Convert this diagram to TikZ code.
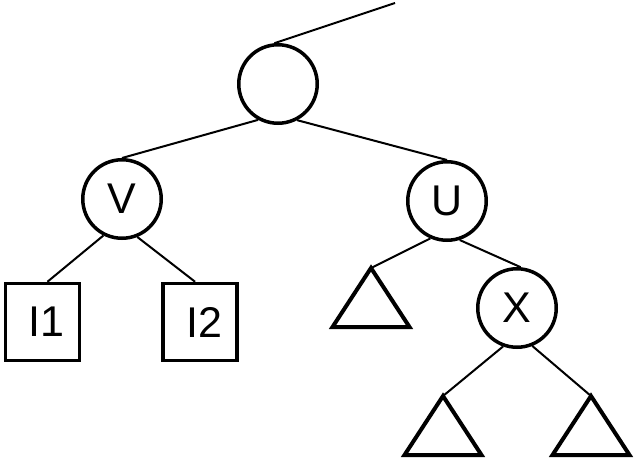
\documentclass[tikz,border=0pt]{standalone}
\usepackage{fontspec}
\setmainfont{Liberation Sans}

\begin{document}
\begin{tikzpicture}
[
x=1pt,y=-1pt,
vert/.style={draw,circle,line width=3.5pt,minimum size=78.5pt,inner sep=0pt,font=\fontsize{43}{43}\selectfont},
leaf/.style={draw,rectangle,line width=3.5pt,minimum width=74pt,minimum height=77pt,inner sep=0pt,font=\fontsize{43}{43}\selectfont},
edge/.style={line width=2pt},
subtree/.style={line width=4pt,line join=miter},
]
\useasboundingbox (0,0) rectangle (637,464);

%Place the nodes
\node[vert] (root) at (278,84) {};
\node[vert] (v) at (122,199) {V};
\node[vert] (u) at (447,201) {U};
\node[vert] (x) at (517,308) {X};
\node[leaf] (i1) at (42.5,322) {\hspace{8pt}I1};
\node[leaf] (i2) at (200,322) {\hspace{8pt}I2};
\coordinate (top) at (395,3);
\coordinate (t1) at (371,268);
\coordinate (t2) at (443,396);
\coordinate (t3) at (591,396);

%Draw the subtrees
\foreach \t in {t1,t2,t3}
  \draw[subtree] (\t) -- ++(-38.5,59) -- ++(77,0) -- cycle;

%Draw the connections
\draw[edge] (root.95) -- (top);
\draw[edge] (root.241) -- (v.north);
\draw[edge] (root.298) -- (u.north);
\draw[edge] (v.243) -- (i1.83);
\draw[edge] (v.292) -- (i2.97);
\draw[edge] (u.246) -- (t1);
\draw[edge] (u.288) -- (x.85);
\draw[edge] (x.250) -- (t2);
\draw[edge] (x.292) -- (t3);
\end{tikzpicture}
\end{document}
